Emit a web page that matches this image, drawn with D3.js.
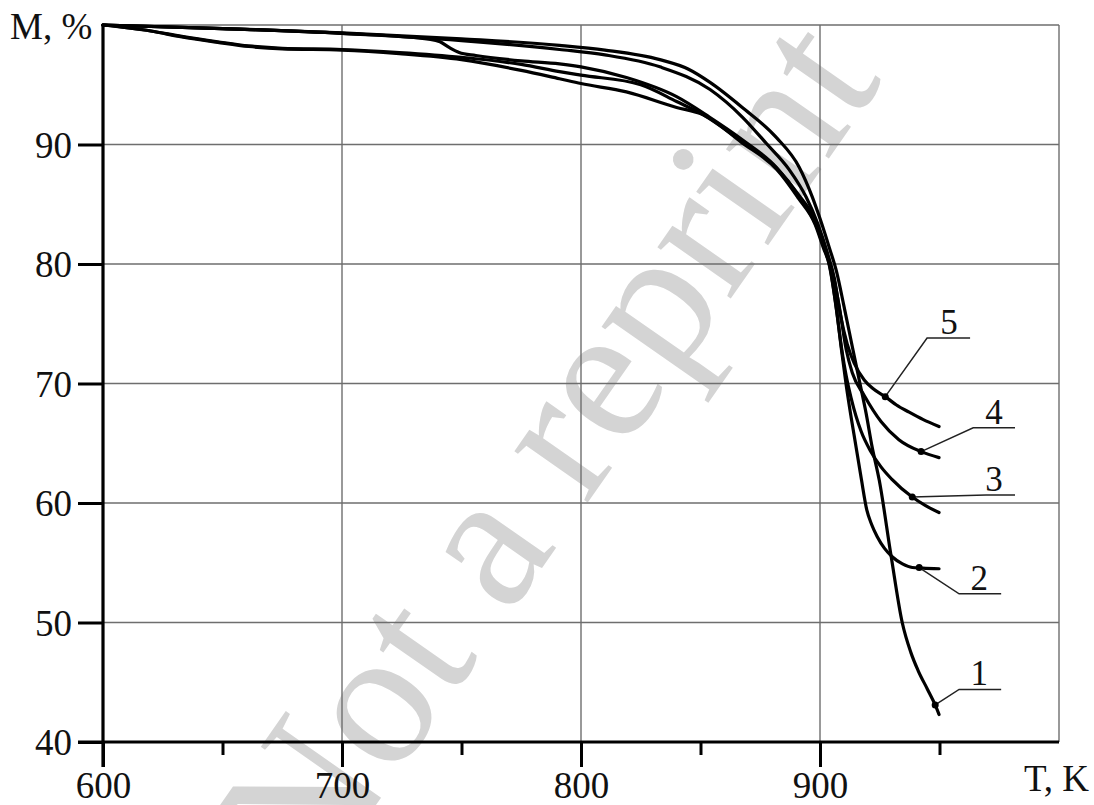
<!DOCTYPE html>
<html>
<head>
<meta charset="utf-8">
<script src="https://cdn.jsdelivr.net/npm/d3@7"></script>
<style>
  html, body { margin: 0; padding: 0; background: #fff; }
  svg { display: block; }
  text { font-family: "Liberation Serif", "Times New Roman", serif; fill: #111; }
</style>
</head>
<body>
<svg id="chart" width="1094" height="805"></svg>
<script>
// ---------- data (T in K, M in %) ----------
const curve1 = [[600,100],[650,99.7],[700,99.35],[750,98.85],[791,98.3],[810,97.9],[833,97.1],[845,96.3],[854,95.2],[867.5,93.1],[881.7,90.6],[891.3,88.1],[896.8,85.6],[900,83.8],[904,81.3],[907,79.3],[910,76.5],[913.5,73.1],[916.4,70.3],[919.3,67.5],[921.8,64.7],[924.8,61.9],[929.8,55.5],[934.4,50.0],[938,47.5],[941,46.0],[945,44.4],[948.2,43.1],[949.8,42.3]];
const curve2 = [[600,100],[620,99.5],[633,99.05],[648,98.6],[661,98.25],[675,98.05],[700,97.95],[724,97.7],[750,97.3],[775,96.7],[791,96.1],[800,95.8],[825,95.0],[840,93.6],[851,92.5],[867,90.3],[882,88.0],[891,85.8],[898,83.6],[901.5,81.5],[904,79.8],[907,76.0],[909,72.8],[911,69.8],[913,67.2],[915,64.8],[917.3,62.0],[919.6,59.4],[921.6,58.2],[923.9,57.2],[927,56.2],[930.2,55.5],[934.5,54.9],[938.6,54.6],[943,54.55],[949.8,54.5]];
const curve3 = [[600,100],[620,99.5],[633,99.0],[648,98.55],[661,98.2],[675,98.0],[700,97.9],[724,97.6],[750,97.1],[775,96.2],[791,95.5],[800,95.1],[819,94.4],[840,93.1],[851,92.5],[867,90.2],[882,87.9],[891,85.5],[898,83.3],[901.5,81.3],[904,79.9],[906.5,76.8],[909,73.0],[911,70.6],[913,68.8],[917.2,66.0],[921,64.4],[925.6,63.0],[930,62.0],[938.6,60.5],[944,59.8],[949.8,59.2]];
const curve4 = [[600,100],[650,99.7],[700,99.3],[737,98.8],[741,98.6],[745,98.1],[749,97.7],[756,97.45],[775,97.0],[791,96.75],[800,96.5],[819,95.6],[840,94.0],[853.7,92.3],[867.5,90.4],[881.7,88.1],[891.3,85.6],[898,83.4],[902,81.3],[905,79.5],[908,76.5],[911,72.8],[913.5,70.9],[918.5,69.0],[925.6,66.8],[933,65.3],[942.3,64.3],[949.8,63.8]];
const curve5 = [[600,100],[650,99.7],[700,99.3],[750,98.7],[791,97.95],[810,97.5],[833,96.5],[854,94.6],[867.5,92.3],[877.5,90.1],[887.1,87.9],[894.2,85.6],[899,83.4],[903,81.0],[906,78.8],[908.5,75.8],[911.4,73.3],[914.3,71.7],[918.5,70.3],[922,69.6],[927.3,68.9],[932,68.2],[937.3,67.6],[943,67.0],[949.8,66.4]];
const curves = [curve1, curve2, curve3, curve4, curve5];

// callouts: label, point on curve, elbow, end of shelf, label centre (data units)
const calloutLabels = ["1", "2", "3", "4", "5"];
const calloutDotT   = [948.2, 941.5, 938.6, 942.3, 927.3];
const calloutDotM   = [43.1, 54.6, 60.5, 64.3, 68.9];
const calloutElbowT = [958.2, 958.2, 969.5, 964.1, 944.8];
const calloutElbowM = [44.4, 52.4, 60.67, 66.3, 73.8];
const calloutEndT   = [975.8, 975.8, 981.6, 981.6, 962.8];
const calloutTextT  = [966.6, 966.6, 972.8, 972.8, 954.0];

const xMajor = [600, 700, 800, 900];
const xMinor = [650, 750, 850, 950];
const xGrid  = [700, 800, 900, 1000];
const yMajor = [40, 50, 60, 70, 80, 90];
const yGrid  = [50, 60, 70, 80, 90, 100];
const xTitle = "T, K";
const yTitle = "M, %";
const watermark = "Not a reprint";

// ---------- drawing ----------
const svg = d3.select("#chart");
const x = d3.scaleLinear().domain([600, 1000]).range([103, 1059]);
const y = d3.scaleLinear().domain([40, 100]).range([742, 25]);

// watermark
svg.append("text")
  .attr("transform", "translate(598,488) rotate(-55)")
  .attr("text-anchor", "middle")
  .style("font-size", "195px")
  .style("fill", "#d4d4d4")
  .text(watermark);

// grid
const grid = svg.append("g").attr("stroke", "#6e6e6e").attr("stroke-width", 1.4);
grid.selectAll("line.h").data(yGrid).join("line").attr("class", "h")
  .attr("x1", x(600)).attr("x2", x(1000))
  .attr("y1", d => y(d)).attr("y2", d => y(d));
grid.selectAll("line.v").data(xGrid).join("line").attr("class", "v")
  .attr("x1", d => x(d)).attr("x2", d => x(d))
  .attr("y1", y(100)).attr("y2", y(40));

// axes
const fs = "37px";
const xAxis = d3.axisBottom(x).tickValues(xMajor).tickSize(25).tickPadding(5).tickFormat(d3.format("d"));
const gx = svg.append("g").attr("transform", `translate(0,${y(40)})`).call(xAxis);
gx.select(".domain").remove();
gx.selectAll(".tick line").attr("stroke", "#000").attr("stroke-width", 3);
gx.selectAll(".tick text").style("font-size", fs).attr("fill", "#111")
  .attr("font-family", "Liberation Serif, serif");

const xAxisMinor = d3.axisBottom(x).tickValues(xMinor).tickSize(13).tickFormat("");
const gxm = svg.append("g").attr("transform", `translate(0,${y(40)})`).call(xAxisMinor);
gxm.select(".domain").remove();
gxm.selectAll(".tick line").attr("stroke", "#000").attr("stroke-width", 3);

const yAxis = d3.axisLeft(y).tickValues(yMajor).tickSize(25).tickPadding(6).tickFormat(d3.format("d"));
const gy = svg.append("g").attr("transform", `translate(${x(600)},0)`).call(yAxis);
gy.select(".domain").remove();
gy.selectAll(".tick line").attr("stroke", "#000").attr("stroke-width", 3);
gy.selectAll(".tick text").style("font-size", fs).attr("fill", "#111").attr("dy", "0.34em")
  .attr("font-family", "Liberation Serif, serif");

// axis lines
svg.append("line").attr("x1", x(600)).attr("x2", x(600)).attr("y1", y(100)).attr("y2", y(40) + 25)
  .attr("stroke", "#000").attr("stroke-width", 3.2);
svg.append("line").attr("x1", x(600) - 25).attr("x2", x(1000)).attr("y1", y(40)).attr("y2", y(40))
  .attr("stroke", "#000").attr("stroke-width", 3.2);

// titles
svg.append("text").attr("x", 10).attr("y", 39).style("font-size", fs).text(yTitle);
svg.append("text").attr("x", 1024).attr("y", 791).style("font-size", fs).text(xTitle);

// curves
const line = d3.line().x(d => x(d[0])).y(d => y(d[1])).curve(d3.curveMonotoneX);
svg.append("g").selectAll("path").data(curves).join("path")
  .attr("d", line)
  .attr("fill", "none").attr("stroke", "#000").attr("stroke-width", 3.2)
  .attr("stroke-linejoin", "round").attr("stroke-linecap", "round");

// callouts
const co = svg.append("g");
calloutLabels.forEach((lab, i) => {
  const pts = [[calloutDotT[i], calloutDotM[i]], [calloutElbowT[i], calloutElbowM[i]], [calloutEndT[i], calloutElbowM[i]]];
  co.append("path")
    .attr("d", d3.line().x(d => x(d[0])).y(d => y(d[1]))(pts))
    .attr("fill", "none").attr("stroke", "#222").attr("stroke-width", 1.5);
  co.append("circle").attr("cx", x(calloutDotT[i])).attr("cy", y(calloutDotM[i])).attr("r", 3.5).attr("fill", "#000");
  co.append("text").attr("x", x(calloutTextT[i])).attr("y", y(calloutElbowM[i]) - 4)
    .attr("text-anchor", "middle").style("font-size", "35px").text(lab);
});
</script>
</body>
</html>
